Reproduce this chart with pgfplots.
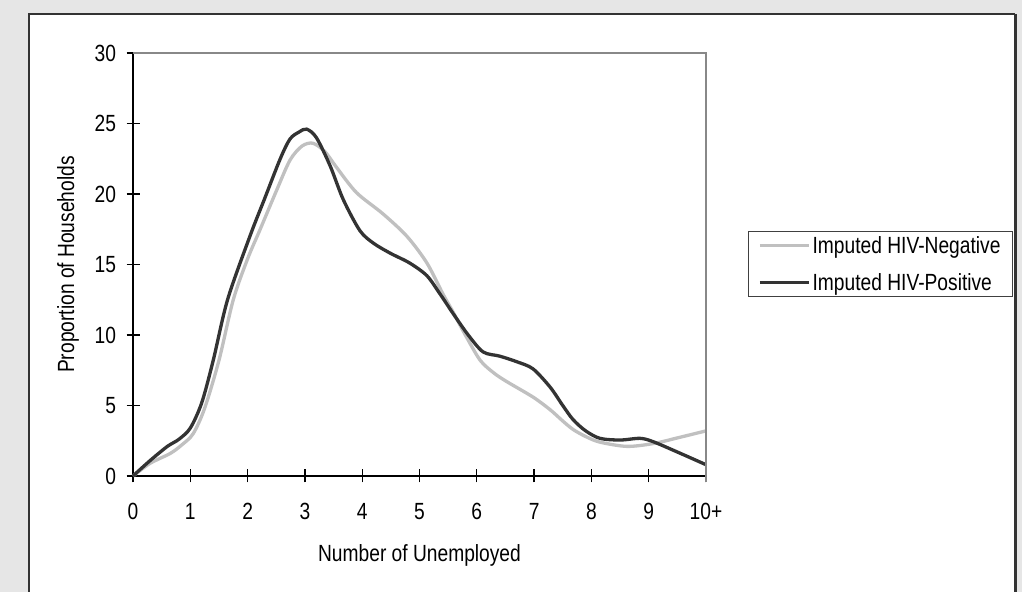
\documentclass[border=0pt]{standalone}
\usepackage{pgfplots}
\pgfplotsset{compat=1.18}
\usepackage{fontspec}
\setmainfont{Liberation Sans}[FakeStretch=0.82]
\definecolor{bgcol}{HTML}{E6E6E6}
\definecolor{framecol}{HTML}{333333}
\definecolor{negcol}{HTML}{C0C0C0}
\definecolor{poscol}{HTML}{333333}
\definecolor{axgray}{HTML}{888888}
\newcommand{\chartfont}{\fontsize{23.5}{28}\selectfont}
\begin{document}
\begin{tikzpicture}[x=1bp,y=1bp]
\path[use as bounding box] (0,0) rectangle (1022,592);
\fill[bgcol] (0,0) rectangle (1022,592);
\fill[white] (29,-10) rectangle (1015,578);
\draw[framecol, line width=2bp] (29,-10) -- (29,578) -- (1015,578);
\draw[framecol, line width=3bp] (1015,578) -- (1015,-10);
\begin{axis}[
  at={(133bp,116bp)}, anchor=origin,
  scale only axis, width=573bp, height=423bp,
  xmin=0, xmax=10, ymin=0, ymax=30,
  axis lines=left,
  axis line style={-, black, line width=1.3bp},
  xtick={0,1,...,10},
  xticklabels={0,1,2,3,4,5,6,7,8,9,10+},
  ytick={0,5,...,30},
  xtick align=center, ytick align=center,
  major tick length=13bp,
  tick style={black, line width=1.3bp},
  tick label style={font=\chartfont, black},
  /pgf/number format/assume math mode=true,
  xticklabel style={yshift=-17bp},
  yticklabel style={xshift=-7bp},
  xlabel={Number of Unemployed},
  ylabel={Proportion of Households},
  every axis x label/.style={at={(rel axis cs:0.5,0)}, yshift=-79bp, anchor=center, font=\chartfont},
  every axis y label/.style={at={(rel axis cs:0,0.5)}, xshift=-65bp, rotate=90, anchor=center, font=\chartfont},
  legend style={at={(1.073,0.579)}, anchor=north west, draw=black!75, line width=1bp,
    font=\chartfont, inner xsep=10bp, inner ysep=2.5bp, row sep=15bp},
  legend cell align=left,
  legend image code/.code={\draw[#1] (0bp,0bp) -- (49bp,0bp);},
  clip=false,
]
\addplot[negcol, line width=3.3bp, smooth, tension=0.5] coordinates {
(0,0) (0.3,0.9) (0.65,1.6) (0.85,2.2) (1.05,3.0) (1.25,4.8) (1.5,8.2) (1.75,12.5)
(2.0,15.4) (2.22,17.5) (2.5,20.2) (2.74,22.4) (2.95,23.4) (3.14,23.6) (3.35,23.0)
(3.55,21.9) (3.9,20.1) (4.36,18.6) (4.78,17.0) (5.13,15.1) (5.41,12.9) (5.59,11.6)
(5.8,10.0) (6.06,8.2) (6.3,7.3) (6.52,6.7) (6.98,5.6) (7.28,4.7) (7.5,3.9) (7.68,3.3)
(7.9,2.8) (8.15,2.4) (8.62,2.1) (9.08,2.3) (9.5,2.7) (10,3.2)
};
\addlegendentry{Imputed HIV-Negative}
\addplot[poscol, line width=3.3bp, smooth, tension=0.5] coordinates {
(0,0) (0.3,1.1) (0.6,2.1) (0.8,2.6) (1.0,3.4) (1.2,5.2) (1.4,8.2) (1.65,12.5)
(2.04,17.0) (2.3,19.7) (2.57,22.5) (2.74,23.9) (2.9,24.4) (3.03,24.6) (3.2,24.0)
(3.44,22.0) (3.67,19.6) (3.96,17.4) (4.2,16.5) (4.49,15.8) (4.83,15.1) (5.13,14.2)
(5.36,12.9) (5.59,11.5) (5.85,10.0) (6.11,8.8) (6.4,8.5) (6.70,8.1) (6.98,7.6)
(7.28,6.3) (7.5,5.0) (7.68,4.0) (7.9,3.2) (8.15,2.67) (8.5,2.55) (8.85,2.67)
(9.08,2.43) (9.5,1.7) (10,0.8)
};
\addlegendentry{Imputed HIV-Positive}
\draw[axgray, line width=1.8bp] (rel axis cs:0,1) -- (rel axis cs:1,1) -- (rel axis cs:1,0) -- ++(0,-6.5bp);
\end{axis}
\end{tikzpicture}
\end{document}
